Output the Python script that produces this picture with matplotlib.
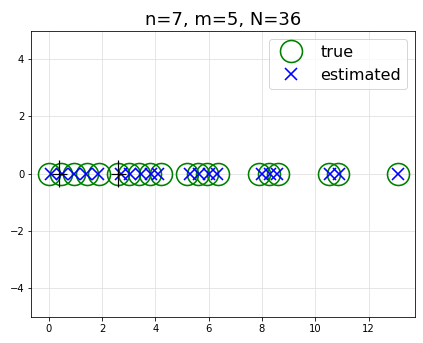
import numpy as np
from matplotlib import pyplot as plt

# positions (all points lie on y=0)
true_x = [0.0, 0.47, 0.95, 1.42, 1.9,
          2.6, 3.0, 3.4, 3.8, 4.2,
          5.2, 5.6, 5.95, 6.35,
          7.9, 8.25, 8.6,
          10.5, 10.85,
          13.1]
est_x = [0.1, 0.5, 0.95, 1.4, 1.85,
         2.7, 3.05, 3.45, 3.85, 4.1,
         5.3, 5.65, 6.0, 6.3,
         8.0, 8.3, 8.55,
         10.55, 10.9,
         13.1]
center_x = [0.4, 2.6]
center_xerr = [0.28, 0.28]
center_yerr = [0.47, 0.47]

fig = plt.figure(figsize=(423 / 72, 343 / 72), dpi=72)
ax = fig.add_axes([0.074, 0.077, 0.908, 0.834])

ax.plot(true_x, np.zeros(len(true_x)), 'o', color='g', mfc='none',
        ms=22, mew=1.6, label='true', zorder=3)
ax.plot(est_x, np.zeros(len(est_x)), 'x', color='b',
        ms=12, mew=1.6, label='estimated', zorder=4)
ax.errorbar(center_x, np.zeros(len(center_x)), xerr=center_xerr,
            yerr=center_yerr, fmt='none', ecolor='k', elinewidth=1.2,
            zorder=5)

ax.set_ylim(-5, 5)
ax.grid(True, color='#e0e0e0', linewidth=0.8)
ax.set_axisbelow(True)
ax.tick_params(labelsize=10)
ax.set_title('n=7, m=5, N=36', fontsize=18)
ax.legend(loc='upper right', fontsize=16, fancybox=True, framealpha=0.8,
          edgecolor='0.8')

fig.savefig('out.png', dpi=72)
